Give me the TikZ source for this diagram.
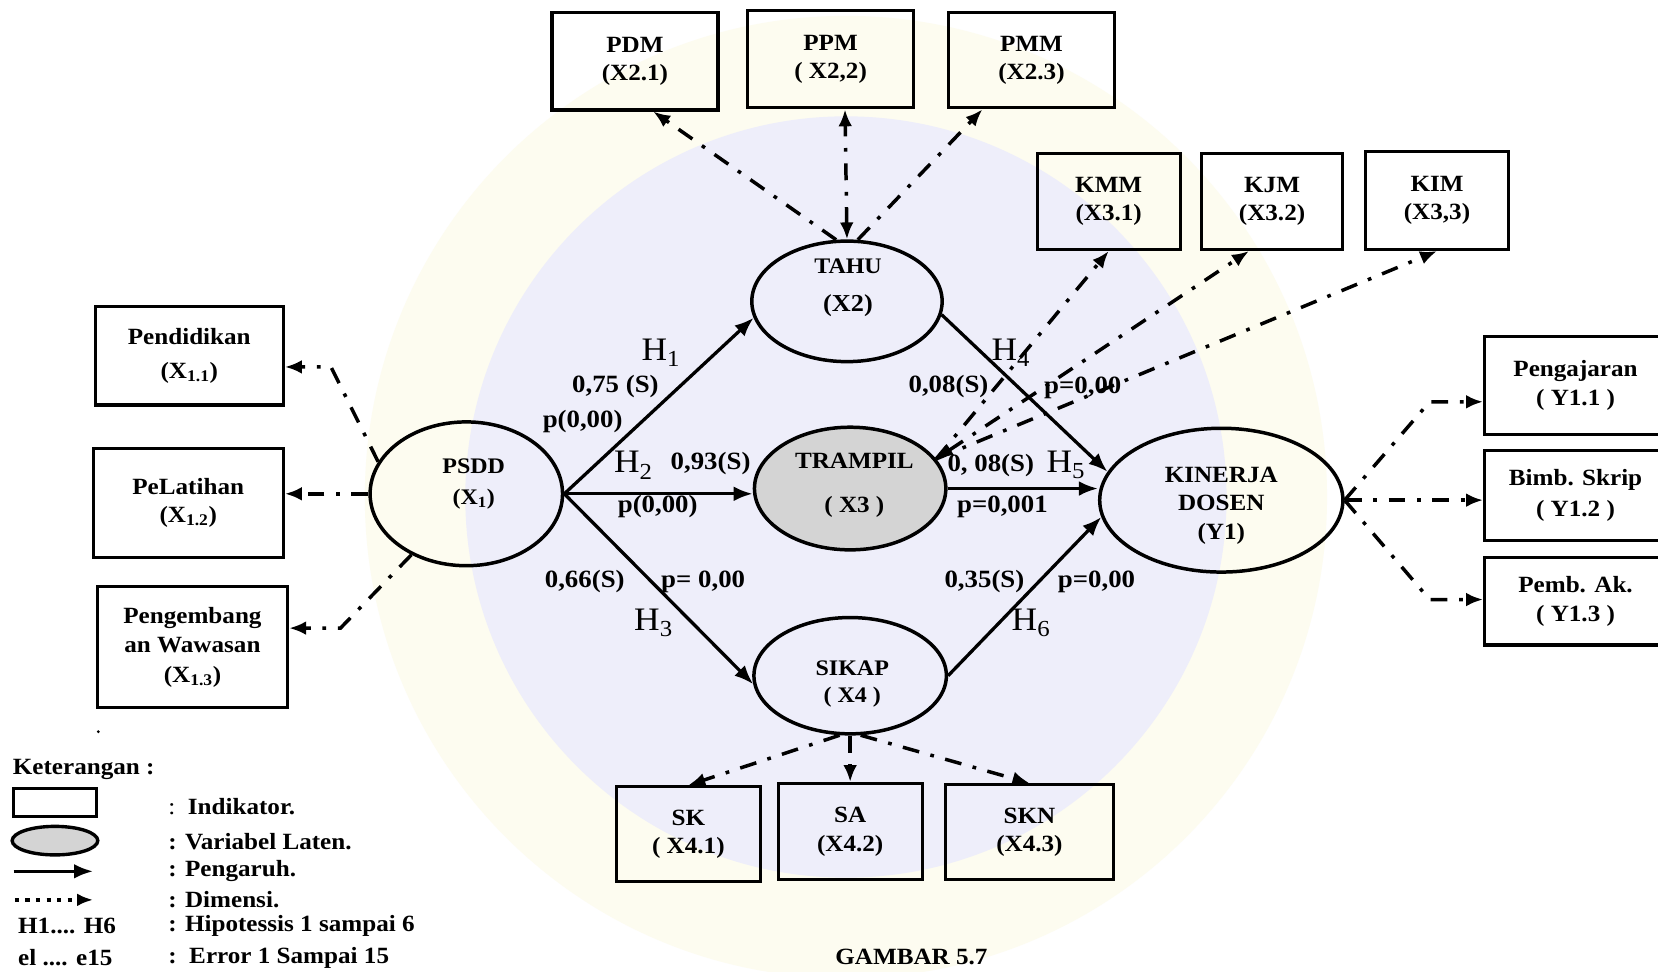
\documentclass[tikz,border=0pt]{standalone}
\usepackage{fontspec}
\setmainfont{Liberation Serif}[FakeStretch=1.08]
\usetikzlibrary{arrows.meta,shapes.geometric}
\definecolor{wmyellow}{RGB}{253,252,240}
\definecolor{wmlav}{RGB}{238,238,250}
\definecolor{latfill}{RGB}{212,212,212}
\begin{document}
\begin{tikzpicture}[x=1pt,y=-1pt,
  ind/.style={draw, line width=2.9pt, inner sep=0pt, align=center,
    font=\bfseries\fontsize{22}{27}\selectfont},
  lat/.style={draw, ellipse, line width=3.3pt, inner sep=0pt},
  ltxt/.style={align=center, inner sep=0pt},
  coef/.style={font=\bfseries\fontsize{23.5}{24}\selectfont, inner sep=0pt},
  hyp/.style={font=\fontsize{31}{31}\selectfont, inner sep=0pt},
  legtxt/.style={anchor=west, inner sep=0pt, font=\bfseries\fontsize{22}{22}\selectfont},
  eff/.style={line width=3.1pt, -{Latex[length=18pt,width=14pt]}},
  dim/.style={line width=3.3pt, dash pattern=on 16pt off 11pt on 3.5pt off 11pt,
    -{Latex[length=16pt,width=13pt]}},
  dimboth/.style={dim, {Latex[length=16pt,width=13pt]}-{Latex[length=16pt,width=13pt]}},
]
% page and faint background seal
\fill[white] (0,0) rectangle (1568,919);
\useasboundingbox (0,0) rectangle (1568,919);
\fill[wmyellow] (800,470) circle[radius=455pt];
\fill[wmlav] (800,470) circle[radius=360pt];

% ---------- indicators ----------
\node[ind, minimum width=157pt, minimum height=92pt] (pdm) at (600.5,58) {PDM\\(X2.1)};
\node[ind, minimum width=157pt, minimum height=92pt] (ppm) at (785.5,56) {PPM\\( X2,2)};
\node[ind, minimum width=157pt, minimum height=90pt] (pmm) at (975.5,57) {PMM\\(X2.3)};

\node[ind, minimum width=135pt, minimum height=91pt] (kmm) at (1048.5,190.5) {KMM\\(X3.1)};
\node[ind, minimum width=134pt, minimum height=91pt] (kjm) at (1203,190.5) {KJM\\(X3.2)};
\node[ind, minimum width=136pt, minimum height=93pt] (kim) at (1359,189.5) {KIM\\(X3,3)};

\node[ind, minimum width=178pt, minimum height=93pt, font=\bfseries\fontsize{22}{32}\selectfont]
  (pend) at (179,336.5) {Pendidikan\\(X\textsubscript{1.1})};
\node[ind, minimum width=180pt, minimum height=103pt, font=\bfseries\fontsize{22}{26}\selectfont]
  (pel) at (178,475.5) {PeLatihan\\(X\textsubscript{1.2})};
\node[ind, minimum width=180pt, minimum height=114pt, font=\bfseries\fontsize{22}{28}\selectfont]
  (peng) at (182,612) {Pengembang\\an Wawasan\\(X\textsubscript{1.3})};

\node[ind, minimum width=172pt, minimum height=93pt] (pgj) at (1490,364.5) {Pengajaran\\( Y1.1 )};
\node[ind, minimum width=172pt, minimum height=85pt, font=\bfseries\fontsize{22}{30}\selectfont]
  (bimb) at (1490,468.5) {Bimb. Skrip\\( Y1.2 )};
\node[ind, minimum width=172pt, minimum height=83pt] (pemb) at (1490,568.5) {Pemb. Ak.\\( Y1.3 )};

\node[ind, minimum width=136pt, minimum height=90pt] (sk) at (651,789) {SK\\( X4.1)};
\node[ind, minimum width=136pt, minimum height=91pt] (sa) at (804,786.5) {SA\\(X4.2)};
\node[ind, minimum width=159pt, minimum height=90pt] (skn) at (973.5,787) {SKN\\(X4.3)};

% ---------- latent variables ----------
\node[lat, minimum width=182pt, minimum height=136pt] (psdd) at (441,467) {};
\node[lat, minimum width=180pt, minimum height=114pt] (tahu) at (801,285) {};
\node[lat, fill=latfill, minimum width=181pt, minimum height=116pt] (trampil) at (804,462) {};
\node[lat, minimum width=182pt, minimum height=110pt] (sikap) at (804,639) {};
\node[lat, minimum width=230pt, minimum height=136pt] (kin) at (1155,473) {};

\node[ltxt, font=\bfseries\fontsize{21}{29}\selectfont] (psdd-t) at (448,458) {PSDD\\(X\textsubscript{1})};
\node[ltxt, font=\bfseries\fontsize{21}{36}\selectfont] (tahu-t) at (802,272) {TAHU\\{\fontsize{23}{23}\selectfont(X2)}};
\node[ltxt, font=\bfseries\fontsize{22}{42}\selectfont] (trampil-t) at (808,459) {TRAMPIL\\( X3 )};
\node[ltxt, font=\bfseries\fontsize{21}{25}\selectfont] (sikap-t) at (806,647) {SIKAP\\( X4 )};
\node[ltxt, font=\bfseries\fontsize{22}{27}\selectfont] (kin-t) at (1155,478) {KINERJA\\DOSEN\\(Y1)};

% ---------- structural paths ----------
\draw[eff] (psdd.east) -- (tahu.190);
\draw[eff] (psdd.east) -- (psdd.east -| trampil.west);
\draw[eff] (psdd.east) -- (sikap.185);
\draw[eff] (tahu.-8) -- (kin.166);
\draw[eff] (trampil.east) -- (trampil.east -| kin.west);
\draw[eff] (sikap.east) -- (kin.188);

% ---------- dimension paths ----------
\coordinate (c-pend) at (313,347);
\coordinate (c-peng) at (322,594);
\draw[dim] (psdd.160) -- (c-pend) -- (c-pend -| pend.east);
\draw[dim] (psdd.west) -- (psdd.west -| pel.east);
\draw[dim] (psdd.-132) -- (c-peng) -- (c-peng -| peng.east);

\draw[dim] (tahu.100) -- (pdm.-70);
\draw[dimboth] (tahu.north) -- (ppm.-74);
\draw[dim] (tahu.80) -- (pmm.-135);

\draw[dim] (trampil.19) -- (kmm.south);
\draw[dimboth] (trampil.19) -- (kjm.-115);
\draw[dim] (trampil.19) -- (kim.south);

\coordinate (c-pgj) at (1352,380);
\coordinate (c-pemb) at (1352,567);
\draw[dim] (kin.east) -- (c-pgj) -- (c-pgj -| pgj.west);
\draw[dim] (kin.east) -- (kin.east -| bimb.west);
\draw[dim] (kin.east) -- (c-pemb) -- (c-pemb -| pemb.west);

\draw[dim] (sikap.-100) -- (sk.north);
\draw[dim] (sikap.south) -- (sa.north);
\draw[dim] (sikap.-80) -- (skn.north);

% ---------- path labels ----------
\node[hyp] (h1) at (625,334) {H\textsubscript{1}};
\node[coef] (c1) at (582,366) {0,75 (S)};
\node[coef] (p1) at (551,399) {p(0,00)};
\node[hyp] (h2) at (599,440) {H\textsubscript{2}};
\node[coef] (c2) at (672,438) {0,93(S)};
\node[coef] (p2) at (622,479) {p(0,00)};
\node[coef] (c3) at (553,550) {0,66(S)};
\node[coef] (p3) at (665,550) {p= 0,00};
\node[hyp] (h3) at (618,589) {H\textsubscript{3}};
\node[hyp] (h4) at (956,334) {H\textsubscript{4}};
\node[coef] (c4) at (897,366) {0,08(S)};
\node[coef] (p4) at (1024,367) {p=0,00};
\node[coef] (c5) at (937,440) {0, 08(S)};
\node[hyp] (h5) at (1008,440) {H\textsubscript{5}};
\node[coef] (p5) at (948,479) {p=0,001};
\node[coef] (c6) at (931,550) {0,35(S)};
\node[coef] (p6) at (1037,550) {p=0,00};
\node[hyp] (h6) at (975,589) {H\textsubscript{6}};

% ---------- legend ----------
\fill (93,692) circle[radius=1.5pt];
\node[legtxt] (leg-title) at (12,728) {Keterangan :};
\node[draw, line width=2.6pt, minimum width=79pt, minimum height=26pt, inner sep=0pt] (leg-box) at (52,759) {};
\node[draw, ellipse, line width=3.2pt, fill=latfill, minimum width=81pt, minimum height=27pt, inner sep=0pt] (leg-ell) at (52,795) {};
\coordinate (leg-a1) at (13,824);
\coordinate (leg-a2) at (88,824);
\coordinate (leg-d1) at (14,851);
\coordinate (leg-d2) at (88,851);
\draw[eff] (leg-a1) -- (leg-a2);
\draw[line width=3.5pt, dash pattern=on 4pt off 6pt, -{Latex[length=15pt,width=12pt]}] (leg-d1) -- (leg-d2);
\node[legtxt] (leg-h) at (17,876) {H1.... H6};
\node[legtxt] (leg-e) at (17,906) {el .... e15};
\node[legtxt] (leg-t1) at (159,763) {{\mdseries :}\ \ Indikator.};
\node[legtxt] (leg-t2) at (159,796) {: Variabel Laten.};
\node[legtxt] (leg-t3) at (159,824) {: Pengaruh.};
\node[legtxt] (leg-t4) at (159,851) {: Dimensi.};
\node[legtxt] (leg-t5) at (159,876) {: Hipotessis 1 sampai 6};
\node[legtxt] (leg-t6) at (159,906) {:\ \ Error 1 Sampai 15};

\node[font=\bfseries\fontsize{22}{22}\selectfont, inner sep=0pt] (caption) at (862,905) {GAMBAR 5.7};
\end{tikzpicture}
\end{document}
